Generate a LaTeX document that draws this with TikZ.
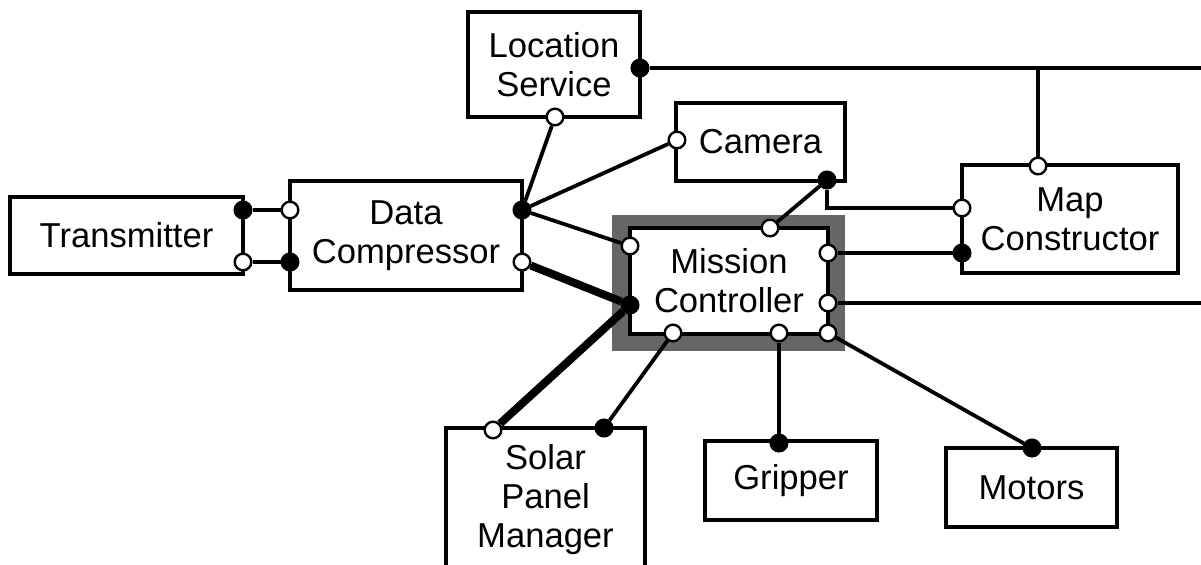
\documentclass[tikz,border=0pt]{standalone}
\usepackage{fontspec}
\setmainfont{Liberation Sans}
\usetikzlibrary{positioning}
\definecolor{framegray}{HTML}{666666}

\begin{document}
\begin{tikzpicture}[x=0.5pt,y=-0.5pt,
	box/.style={draw, line width=2pt, fill=white, align=center, inner sep=0pt,
		font=\fontsize{17.3}{19.5}\selectfont},
	opin/.style={circle, draw, line width=1.2pt, fill=white, inner sep=0pt, minimum size=8.3pt},
	fpin/.style={opin, fill=black},
	wire/.style={line width=1.9pt},
	fat/.style={line width=4pt}]
	\clip (0,0) rectangle (1201,564);
	% frame round the mission controller
	\node[fill=framegray, minimum width=116.5pt, minimum height=68pt, inner sep=0pt] (mcframe) at (728.5,283) {};
	% components
	\node[box, minimum width=116.5pt, minimum height=38.5pt] (tx) at (126.5,235.5) {Transmitter};
	\node[box, minimum width=116pt, minimum height=54.5pt] (dc) at (406,235.5) {Data\\Compressor};
	\node[box, minimum width=86pt, minimum height=52.5pt] (loc) at (554,64.5) {Location\\Service};
	\node[box, minimum width=84.5pt, minimum height=39pt] (cam) at (760.5,142) {Camera};
	\node[box, minimum width=108pt, minimum height=54pt] (map) at (1070,219) {Map\\Constructor};
	\node[box, minimum width=99pt, minimum height=53pt] (mc) at (729,281) {Mission\\Controller};
	\node[box, minimum width=99.5pt, minimum height=72pt] (sol) at (545.5,500) {Solar\\Panel\\Manager};
	\node[box, minimum width=86pt, minimum height=39.5pt] (grip) at (791,480.5) {Gripper};
	\node[box, minimum width=85.5pt, minimum height=39.5pt] (mot) at (1031.5,487.5) {Motors};
	% ports
	\node[fpin] (txA) at (243,210) {};
	\node[opin] (txB) at (243,262) {};
	\node[opin] (dcA) at (290,210) {};
	\node[fpin] (dcB) at (290,262) {};
	\node[fpin] (dcC) at (522,210) {};
	\node[opin] (dcD) at (522,262) {};
	\node[fpin] (locA) at (640,68) {};
	\node[opin] (locB) at (555,117) {};
	\node[opin] (camA) at (677,140) {};
	\node[fpin] (camB) at (827,180) {};
	\node[opin] (mcT) at (770,228) {};
	\node[opin] (mcL1) at (630,246) {};
	\node[fpin] (mcL2) at (630,305) {};
	\node[opin] (mcR1) at (828,253) {};
	\node[opin] (mcR2) at (828,303) {};
	\node[opin] (mcB1) at (673,333) {};
	\node[opin] (mcB2) at (779,333) {};
	\node[opin] (mcB3) at (828,333) {};
	\node[opin] (mapT) at (1038,166) {};
	\node[opin] (mapL1) at (962,208) {};
	\node[fpin] (mapL2) at (962,253) {};
	\node[opin] (solA) at (493,430) {};
	\node[fpin] (solB) at (604,428) {};
	\node[fpin] (gripA) at (779,443) {};
	\node[fpin] (motA) at (1032,448) {};
	\coordinate (eastA) at (1201,68);
	\coordinate (eastB) at (1201,303);
	% connectors
	\draw[wire] (txA) -- (dcA);
	\draw[wire] (txB) -- (dcB);
	\draw[wire] (locB) -- (dcC);
	\draw[wire] (dcC) -- (camA);
	\draw[wire] (dcC) -- (mcL1);
	\draw[fat] (dcD) -- (mcL2);
	\draw[fat] (solA) -- (mcL2);
	\draw[wire] (camB) -- (mcT);
	\draw[wire] (camB) |- (mapL1);
	\draw[wire] (mcR1) -- (mapL2);
	\draw[wire] (mcR2) -- (eastB);
	\draw[wire] (locA) -- (eastA);
	\draw[wire] (mapT) -- (mapT |- locA);
	\draw[wire] (solB) -- (mcB1);
	\draw[wire] (mcB2) -- (gripA);
	\draw[wire] (mcB3) -- (motA);
\end{tikzpicture}
\end{document}
